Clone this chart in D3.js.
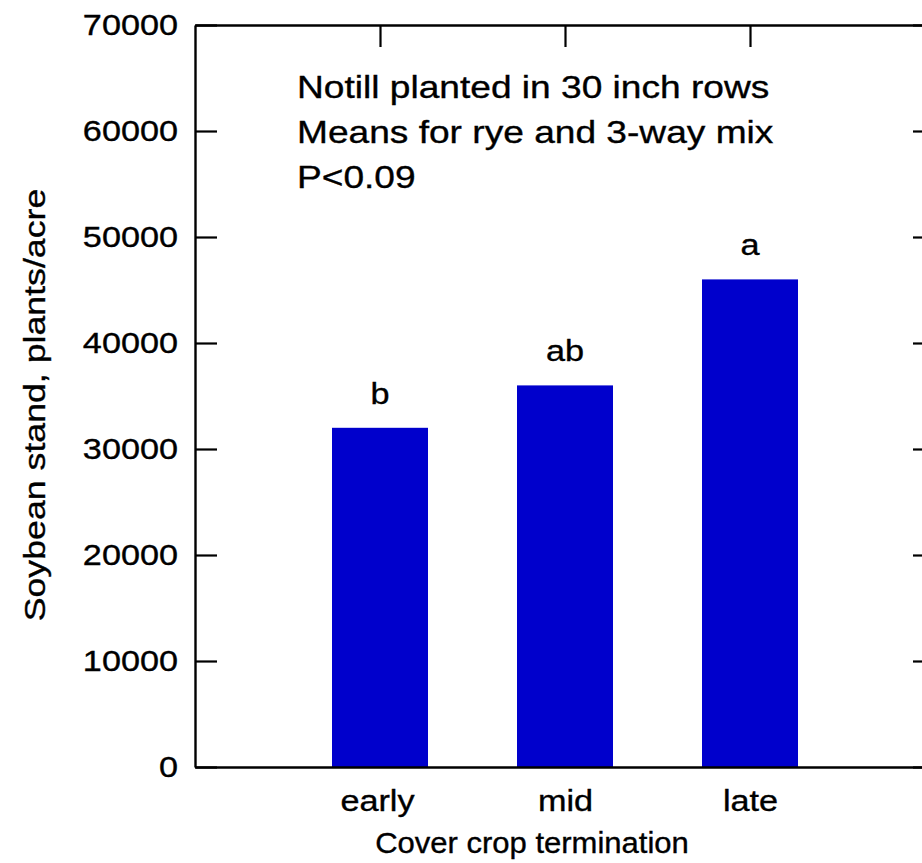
<!DOCTYPE html>
<html>
<head>
<meta charset="utf-8">
<script src="https://cdn.jsdelivr.net/npm/d3@7/dist/d3.min.js"></script>
<style>
	body { margin: 0; background: #fff; overflow: hidden; }
	svg { display: block; }
	text { stroke: #000; stroke-width: 0.35px; }
</style>
</head>
<body>
<div id="chart"></div>
<script>
const categories = ["early", "mid", "late"];
const standValues = [32000, 36000, 46000];
const sigLetters = ["b", "ab", "a"];
const yTickValues = [0, 10000, 20000, 30000, 40000, 50000, 60000, 70000];
const noteLines = ["Notill planted in 30 inch rows", "Means for rye and 3-way mix", "P<0.09"];
const xTitle = "Cover crop termination";
const yTitle = "Soybean stand, plants/acre";

const width = 922, height = 863;
const margins = { top: 25, left: 195 };
const plotWidth = 740, plotHeight = 742;
const fontFamily = "'Liberation Sans', Arial, sans-serif";
const stretch = 1.18; // the original font is set wider than Arial
const tickLen = 22;

const svg = d3.select("#chart").append("svg")
	.attr("width", width)
	.attr("height", height);

const g = svg.append("g")
	.attr("transform", `translate(${margins.left}, ${margins.top})`);

// Scales: categories sit at 1, 2, 3 on a 0..4 axis
const xScale = d3.scaleLinear()
	.domain([0, categories.length + 1])
	.range([0, plotWidth]);

const yScale = d3.scaleLinear()
	.domain([0, 70000])
	.range([plotHeight, 0]);

const barWidth = 96;

// Bars
g.selectAll("rect.bar")
	.data(standValues)
	.join("rect")
	.attr("class", "bar")
	.attr("x", (d, i) => xScale(i + 1) - barWidth / 2)
	.attr("y", d => yScale(d))
	.attr("width", barWidth)
	.attr("height", d => plotHeight - yScale(d))
	.attr("fill", "#0000cc");

// Axes with inward ticks
const catTicks = categories.map((c, i) => i + 1);

const leftAxis = g.append("g")
	.call(d3.axisLeft(yScale).tickValues(yTickValues).tickSizeOuter(0).tickPadding(17).tickFormat(d3.format("d")));

const rightAxis = g.append("g")
	.attr("transform", `translate(${plotWidth}, 0)`)
	.call(d3.axisRight(yScale).tickValues(yTickValues).tickSizeOuter(0).tickFormat(""));

const topAxis = g.append("g")
	.call(d3.axisTop(xScale).tickValues(catTicks).tickSizeOuter(0).tickFormat(""));

const bottomAxis = g.append("g")
	.attr("transform", `translate(0, ${plotHeight})`)
	.call(d3.axisBottom(xScale).tickValues(catTicks).tickSize(0).tickPadding(20).tickFormat(d => categories[d - 1]));

// point every tick into the plot
leftAxis.selectAll(".tick line").attr("x2", tickLen);
rightAxis.selectAll(".tick line").attr("x2", -tickLen);
topAxis.selectAll(".tick line").attr("y2", tickLen);

[leftAxis, rightAxis, topAxis, bottomAxis].forEach(ax => {
	ax.select(".domain").attr("stroke", "#000").attr("stroke-width", 2.4);
	ax.selectAll(".tick line").attr("stroke", "#000").attr("stroke-width", 2.2);
	ax.selectAll("text").attr("fill", "#000");
	ax.attr("font-family", fontFamily).attr("font-size", 29);
});

g.selectAll("rect.bar").lower();

// y tick labels: stretch horizontally around their right edge
leftAxis.selectAll(".tick text")
	.attr("x", null)
	.attr("dy", null)
	.attr("transform", `translate(-17, 9) scale(${stretch}, 1)`);

bottomAxis.selectAll(".tick text")
	.attr("y", null)
	.attr("dy", null)
	.attr("transform", (d, i) => `translate(${i === 0 ? -3 : 0}, 44) scale(${stretch}, 1)`);

// Significance letters
g.selectAll("text.sig")
	.data(standValues)
	.join("text")
	.attr("class", "sig")
	.attr("text-anchor", "middle")
	.attr("font-family", fontFamily)
	.attr("font-size", 29)
	.attr("transform", (d, i) => `translate(${xScale(i + 1)}, ${yScale(d) - 24}) scale(${stretch}, 1)`)
	.text((d, i) => sigLetters[i]);

// Notes block
g.selectAll("text.note")
	.data(noteLines)
	.join("text")
	.attr("class", "note")
	.attr("font-family", fontFamily)
	.attr("font-size", 32)
	.attr("transform", (d, i) => `translate(102, ${73 + i * 45}) scale(1.16, 1)`)
	.text(d => d);

// Axis titles
svg.append("text")
	.attr("text-anchor", "middle")
	.attr("font-family", fontFamily)
	.attr("font-size", 29)
	.attr("transform", `translate(532, 853) scale(1.07, 1)`)
	.text(xTitle);

svg.append("text")
	.attr("text-anchor", "middle")
	.attr("font-family", fontFamily)
	.attr("font-size", 30)
	.attr("transform", `translate(45, 405) rotate(-90) scale(1.19, 1)`)
	.text(yTitle);
</script>
</body>
</html>
